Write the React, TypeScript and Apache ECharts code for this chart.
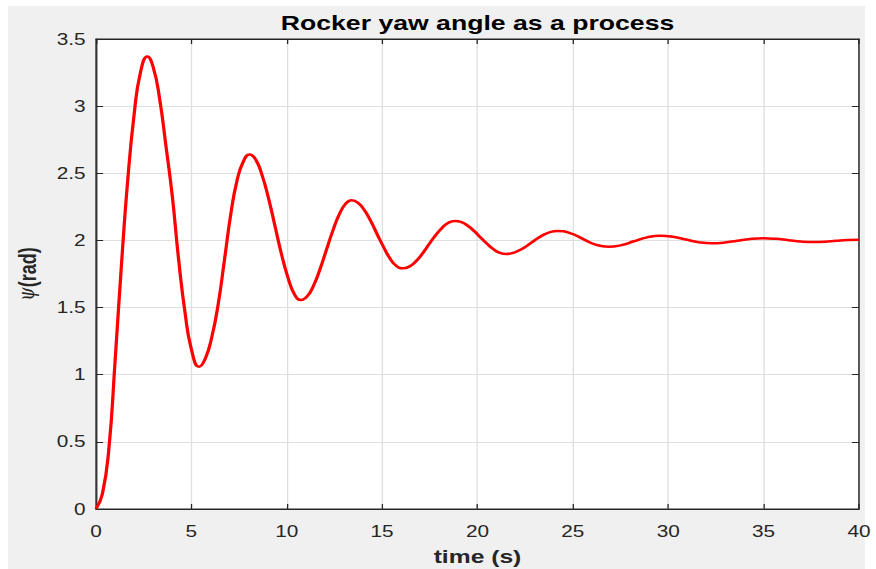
import React, { useEffect, useRef } from 'react';
import * as echarts from 'echarts';

// ---- data ----
const timeS = [
  0, 0.33, 0.67, 1.0, 1.33, 1.67, 2.0, 2.33, 2.69, 3.0, 3.33, 3.67, 4.0, 4.33, 4.67, 5.0,
  5.4, 5.73, 6.07, 6.4, 6.73, 7.07, 7.4, 7.73, 8.05, 8.38, 8.72, 9.05, 9.38, 9.72, 10.05, 10.4,
  10.75, 11.08, 11.41, 11.74, 12.08, 12.41, 12.74, 13.07, 13.4, 13.74, 14.07, 14.41, 14.74,
  15.08, 15.41, 15.75, 16.08, 16.42, 16.77, 17.11, 17.45, 17.79, 18.14, 18.48, 18.82,
  19.16, 19.49, 19.83, 20.16, 20.5, 20.83, 21.17, 21.5, 21.84, 22.17, 22.51, 22.84, 23.18,
  23.51, 23.85, 24.18, 24.85, 25.52, 26.19, 26.86, 27.54, 28.2, 28.89, 29.57, 30.25, 30.92,
  31.6, 32.28, 32.95, 33.62, 34.3, 34.97, 35.63, 36.3, 36.95, 37.6, 38.2, 38.8, 39.4, 40,
];
const psiRad = [
  0, 0.11, 0.44, 1.1, 1.81, 2.46, 2.94, 3.25, 3.37, 3.29, 3.06, 2.7, 2.33, 1.86, 1.46, 1.19,
  1.06, 1.12, 1.28, 1.52, 1.85, 2.2, 2.45, 2.59, 2.64, 2.6, 2.48, 2.31, 2.11, 1.9, 1.73, 1.6,
  1.556, 1.585, 1.665, 1.785, 1.93, 2.07, 2.19, 2.27, 2.3, 2.28, 2.225, 2.143, 2.046,
  1.95, 1.866, 1.81, 1.792, 1.805, 1.844, 1.901, 1.97, 2.036, 2.093, 2.132, 2.145,
  2.136, 2.109, 2.069, 2.022, 1.975, 1.935, 1.908, 1.899, 1.906, 1.925, 1.952, 1.985, 2.018,
  2.045, 2.064, 2.07, 2.055, 2.012, 1.969, 1.953, 1.965, 1.994, 2.023, 2.035, 2.027, 2.007,
  1.987, 1.979, 1.984, 1.998, 2.011, 2.016, 2.012, 2.002, 1.992, 1.988, 1.99, 1.997, 2.003, 2.005,
];
const xTickValues = [0, 5, 10, 15, 20, 25, 30, 35, 40];
const yTickValues = [0, 0.5, 1, 1.5, 2, 2.5, 3, 3.5];

const titleText = 'Rocker yaw angle as a process';
const xName = 'time (s)';
const yName = '{psi|ψ}{b|(rad)}';

// ---- layout ----
const S = 857 / 660; // horizontal stretch of the reference figure
const CHART_W = 675; // unscaled width; 675 * S ≈ 876 page px
const CHART_H = 569;
const FONT = "'Liberation Sans', Arial, Helvetica, sans-serif";
const AX = '#262626';

export default function App() {
  const ref = useRef<HTMLDivElement>(null);

  useEffect(() => {
    if (!ref.current) return;
    const chart = echarts.init(ref.current, null, { renderer: 'svg' });
    const xMin = xTickValues[0];
    const xMax = xTickValues[xTickValues.length - 1];
    const xInt = xTickValues[1] - xTickValues[0];
    const yMin = yTickValues[0];
    const yMax = yTickValues[yTickValues.length - 1];
    const yInt = yTickValues[1] - yTickValues[0];

    const baseX = { type: 'value' as const, min: xMin, max: xMax, interval: xInt };
    const baseY = { type: 'value' as const, min: yMin, max: yMax, interval: yInt };

    chart.setOption({
      animation: false,
      backgroundColor: 'transparent',
      textStyle: { fontFamily: FONT },
      grid: {
        left: 96 / S,
        right: CHART_W - 859 / S,
        top: 39,
        bottom: 60,
        show: true,
        backgroundColor: '#ffffff',
        borderColor: AX,
        borderWidth: 1,
        containLabel: false,
        outerBoundsMode: 'none',
      },
      graphic: [
        {
          type: 'text',
          x: 477.5 / S,
          y: 23,
          z: 10,
          style: {
            text: titleText,
            fontFamily: FONT,
            fontSize: 20.5,
            fontWeight: 'bold',
            fill: '#000000',
            align: 'center',
            verticalAlign: 'middle',
            textAlign: 'center',
            textVerticalAlign: 'middle',
          },
        },
      ],
      xAxis: [
        {
          ...baseX,
          position: 'bottom',
          name: xName,
          nameLocation: 'middle',
          nameGap: 38,
          nameTextStyle: { fontFamily: FONT, fontSize: 19, fontWeight: 'bold', color: AX },
          axisLine: { show: true, onZero: false, lineStyle: { color: AX, width: 1 } },
          axisTick: { show: true, inside: true, length: 5, lineStyle: { color: AX, width: 1 } },
          axisLabel: { color: AX, fontSize: 16, fontFamily: FONT, margin: 14 },
          splitLine: { show: true, lineStyle: { color: '#dfdfdf', width: 1 } },
        },
        {
          ...baseX,
          position: 'top',
          axisLine: { show: true, onZero: false, lineStyle: { color: AX, width: 1 } },
          axisTick: { show: true, inside: true, length: 5, lineStyle: { color: AX, width: 1 } },
          axisLabel: { show: false },
          splitLine: { show: false },
        },
      ],
      yAxis: [
        {
          ...baseY,
          position: 'left',
          name: yName,
          nameLocation: 'middle',
          nameRotate: 90,
          nameGap: 44,
          nameTextStyle: {
            fontFamily: FONT,
            fontSize: 18,
            fontWeight: 'bold',
            color: AX,
            rich: {
              psi: {
                fontFamily: "'DejaVu Serif', serif",
                fontStyle: 'italic',
                fontWeight: 'normal',
                fontSize: 17,
                color: AX,
              },
              b: { fontFamily: FONT, fontWeight: 'bold', fontSize: 18, color: AX },
            },
          },
          axisLine: { show: true, onZero: false, lineStyle: { color: AX, width: 1 } },
          axisTick: { show: true, inside: true, length: 5.5, lineStyle: { color: AX, width: 1 } },
          axisLabel: { color: AX, fontSize: 16, fontFamily: FONT, margin: 8, padding: [5, 0, 0, 0] },
          splitLine: { show: true, lineStyle: { color: '#dfdfdf', width: 1 } },
        },
        {
          ...baseY,
          position: 'right',
          axisLine: { show: true, onZero: false, lineStyle: { color: AX, width: 1 } },
          axisTick: { show: true, inside: true, length: 5.5, lineStyle: { color: AX, width: 1 } },
          axisLabel: { show: false },
          splitLine: { show: false },
        },
      ],
      series: [
        {
          type: 'line',
          xAxisIndex: 0,
          yAxisIndex: 0,
          data: timeS.map((t, i) => [t, psiRad[i]]),
          smooth: 0.5,
          showSymbol: false,
          symbol: 'none',
          clip: false,
          lineStyle: { color: '#ff0000', width: 2.5 },
          z: 5,
        },
      ],
    });

    return () => chart.dispose();
  }, []);

  return (
    <div
      style={{
        position: 'fixed',
        left: 0,
        top: 0,
        width: 876,
        height: 569,
        background: '#ffffff',
        overflow: 'hidden',
      }}
    >
      <div
        style={{
          position: 'absolute',
          left: 8,
          top: 6,
          width: 857,
          height: 563,
          background: '#f0f0f0',
        }}
      />
      <div
        ref={ref}
        style={{
          position: 'absolute',
          left: 0,
          top: 0,
          width: CHART_W,
          height: CHART_H,
          transform: `scaleX(${S})`,
          transformOrigin: '0 0',
        }}
      />
    </div>
  );
}
